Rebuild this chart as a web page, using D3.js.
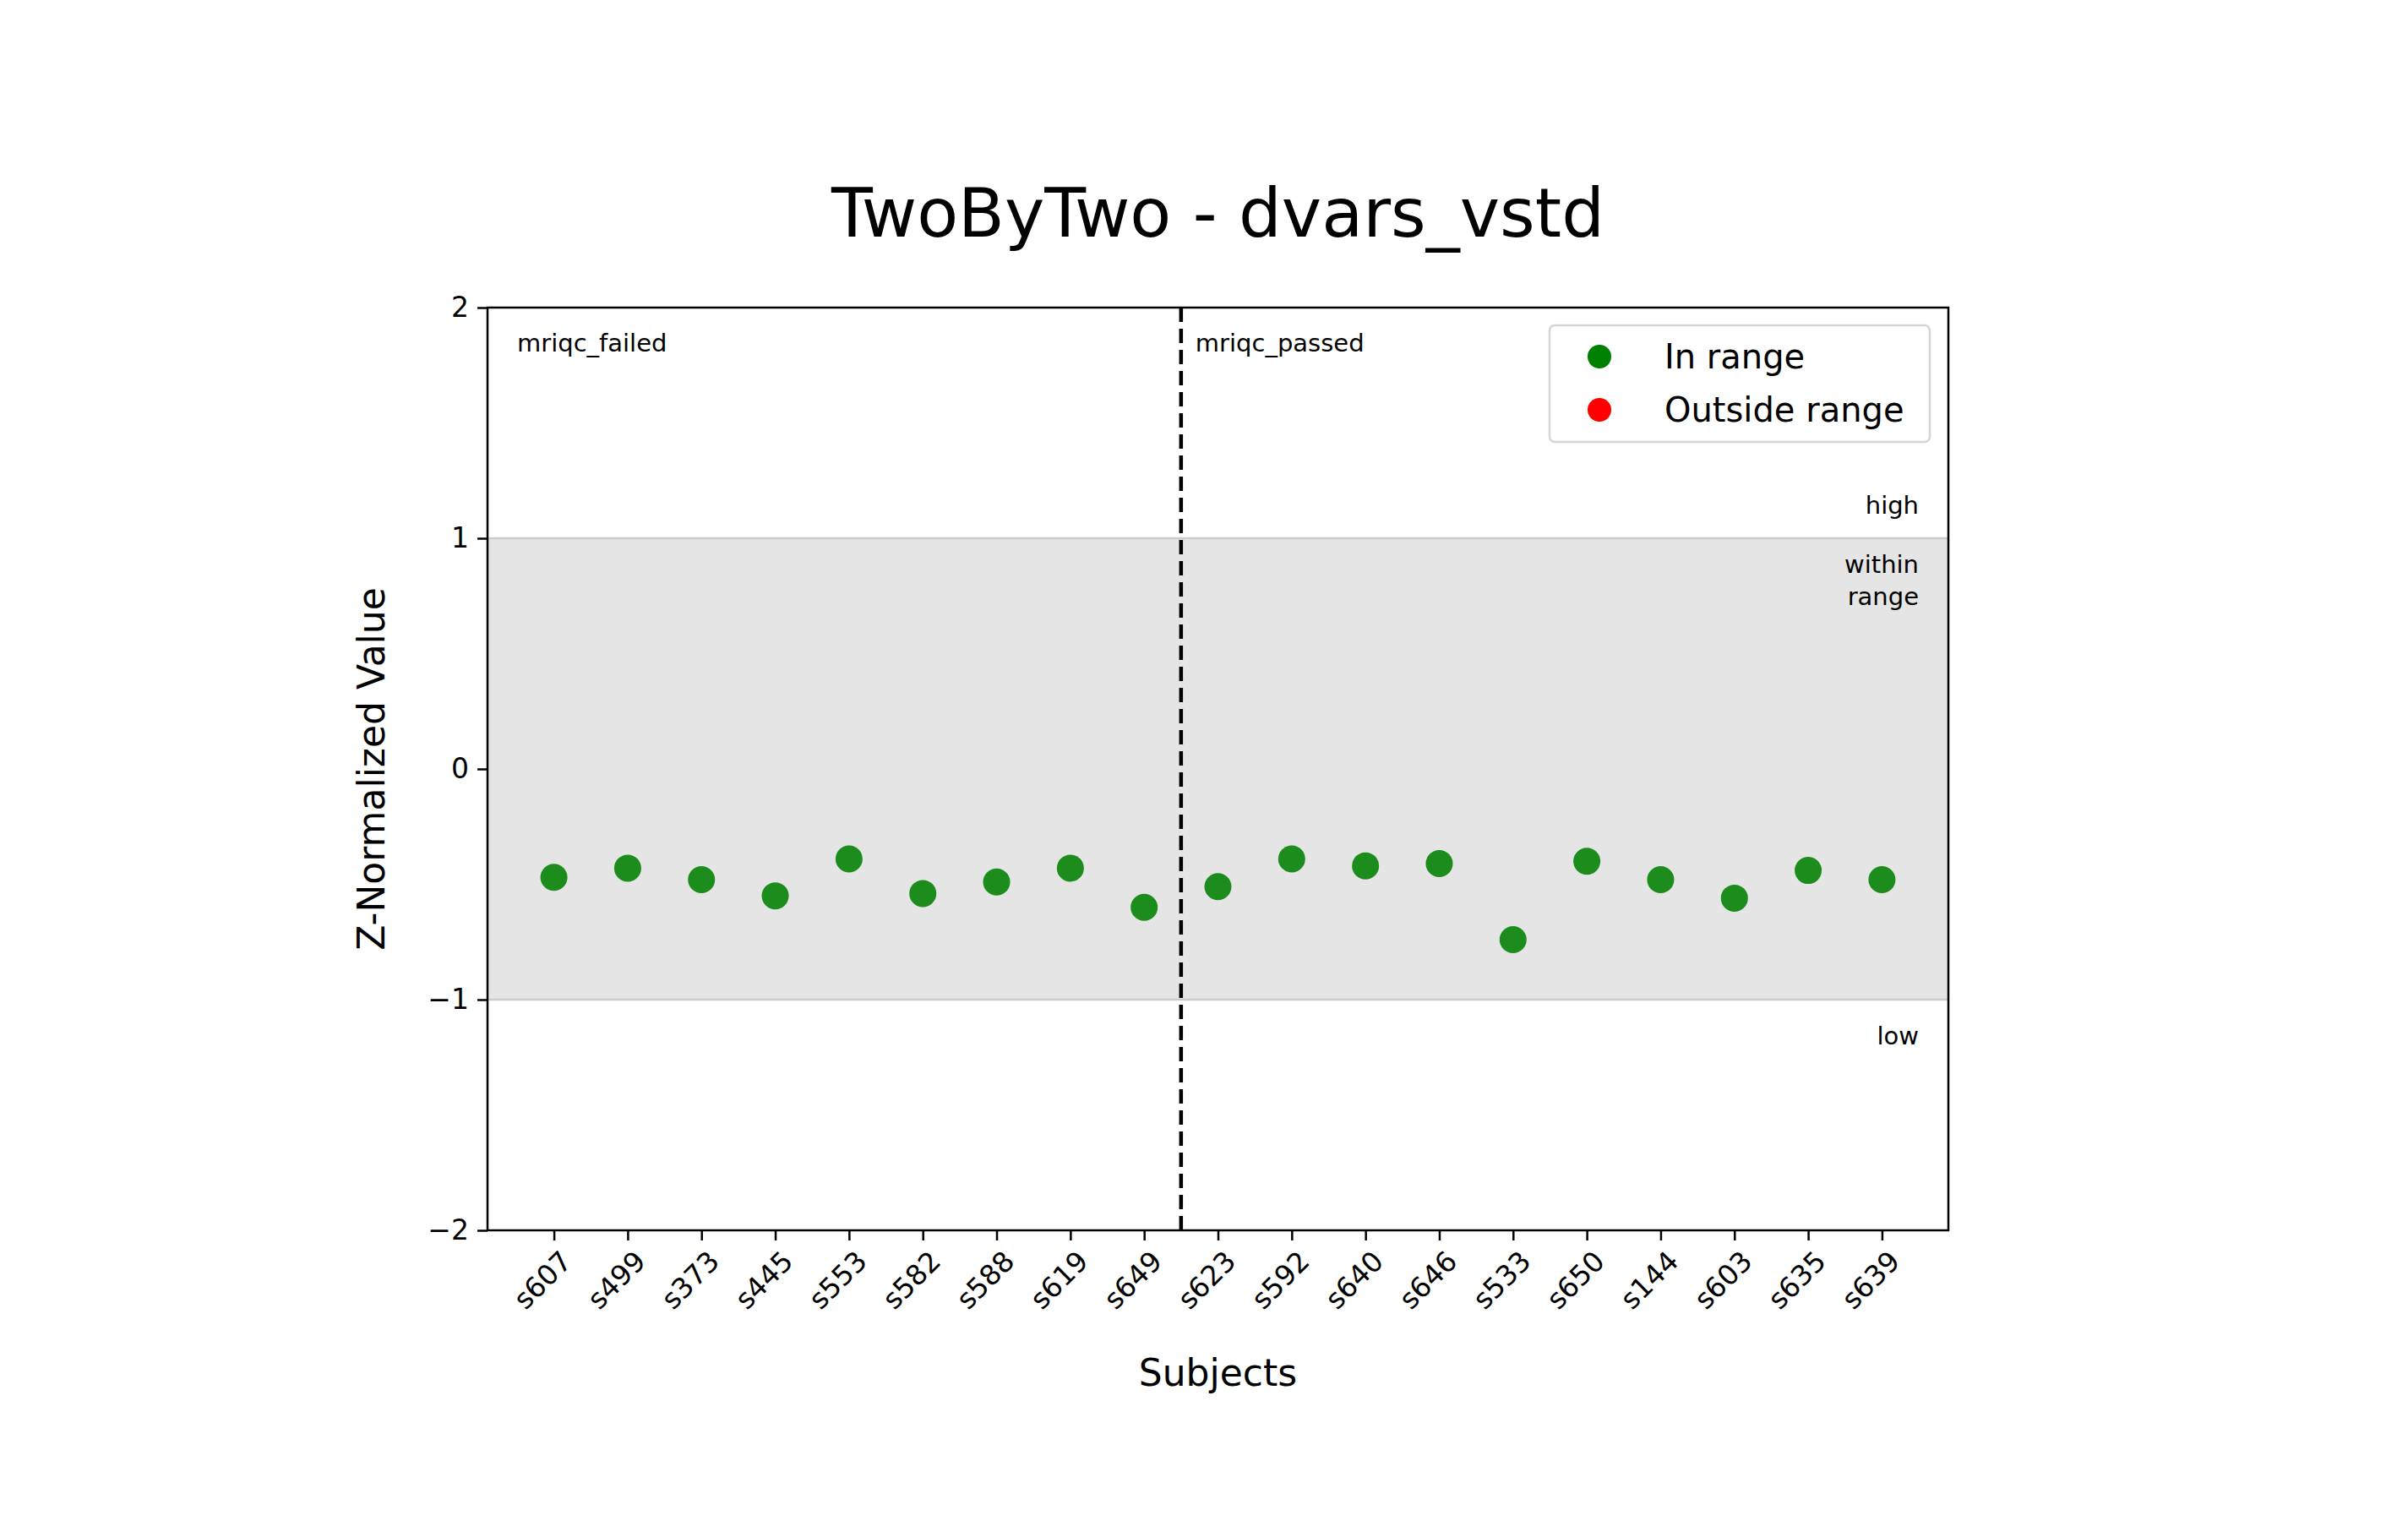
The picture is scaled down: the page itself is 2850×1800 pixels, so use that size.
<!DOCTYPE html>
<html><head><meta charset="utf-8">
<script src="https://cdn.jsdelivr.net/npm/d3@7"></script>
<style>body{margin:0;background:#fff}text{font-family:"DejaVu Sans",sans-serif}</style>
</head><body><div id="graph"></div>
<script>
// Subjects and their z-normalized values
const subjects = ['s607','s499','s373','s445','s553','s582','s588','s619','s649','s623','s592','s640','s646','s533','s650','s144','s603','s635','s639'];
const values = [-0.47,-0.43,-0.48,-0.55,-0.39,-0.54,-0.49,-0.43,-0.60,-0.51,-0.39,-0.42,-0.41,-0.74,-0.40,-0.48,-0.56,-0.44,-0.48];
const yTicks = [-2,-1,0,1,2];
const splitAt = 8.5; // between failed and passed groups

const width = 2850, height = 1800;
const m = {left: 577, right: 2306, top: 364, bottom: 1456};

const svg = d3.select('#graph').append('svg')
    .attr('width', width).attr('height', height);

const x = d3.scaleLinear().domain([-0.9, 18.9]).range([m.left, m.right]);
const y = d3.scaleLinear().domain([-2, 2]).range([m.bottom, m.top]);

// within-range band
svg.append('rect')
    .attr('x', m.left).attr('width', m.right - m.left)
    .attr('y', y(1)).attr('height', y(-1) - y(1))
    .attr('fill', '#e5e5e5');
[1, -1].forEach(v => svg.append('line')
    .attr('x1', m.left).attr('x2', m.right).attr('y1', y(v)).attr('y2', y(v))
    .attr('stroke', '#cccccc').attr('stroke-width', 2.5));

// divider
svg.append('line')
    .attr('x1', x(splitAt)).attr('x2', x(splitAt)).attr('y1', m.top).attr('y2', m.bottom)
    .attr('stroke', '#000').attr('stroke-width', 4.5).attr('stroke-dasharray', '17,8');

// points
svg.selectAll('circle.pt').data(values).enter().append('circle')
    .attr('class', 'pt')
    .attr('cx', (d, i) => x(i)).attr('cy', d => y(d)).attr('r', 16)
    .attr('fill', 'green').attr('fill-opacity', 0.88);

// frame
svg.append('rect').attr('x', m.left).attr('y', m.top)
    .attr('width', m.right - m.left).attr('height', m.bottom - m.top)
    .attr('fill', 'none').attr('stroke', '#000').attr('stroke-width', 2.5);

// axes
const yAxis = svg.append('g').attr('transform', `translate(${m.left},0)`)
    .call(d3.axisLeft(y).tickValues(yTicks).tickSize(12).tickPadding(10)
      .tickFormat(d => d < 0 ? '\u2212' + Math.abs(d) : d));
yAxis.select('.domain').remove();
yAxis.selectAll('line').attr('stroke-width', 2.5);
yAxis.selectAll('text').attr('font-size', 33).attr('font-family', 'DejaVu Sans');

const xAxis = svg.append('g').attr('transform', `translate(0,${m.bottom})`)
    .call(d3.axisBottom(x).tickValues(d3.range(subjects.length)).tickSize(12)
      .tickFormat(i => subjects[i]));
xAxis.select('.domain').remove();
xAxis.selectAll('line').attr('stroke-width', 2.5);
xAxis.selectAll('text').attr('font-size', 33).attr('font-family', 'DejaVu Sans')
    .attr('text-anchor', 'end').attr('dy', 0)
    .attr('transform', 'translate(12,28) rotate(-45)');

// titles
svg.append('text').attr('x', (m.left + m.right) / 2).attr('y', 280)
    .attr('text-anchor', 'middle').attr('font-size', 80).text('TwoByTwo - dvars_vstd');
svg.append('text').attr('x', (m.left + m.right) / 2).attr('y', 1640)
    .attr('text-anchor', 'middle').attr('font-size', 44).text('Subjects');
svg.append('text').attr('transform', `translate(455,${(m.top + m.bottom) / 2}) rotate(-90)`)
    .attr('text-anchor', 'middle').attr('font-size', 44).text('Z-Normalized Value');

// annotations
const ann = (tx, ty, t, anchor) => svg.append('text').attr('x', tx).attr('y', ty)
    .attr('font-size', 29).attr('text-anchor', anchor || 'start').text(t);
ann(612, 416, 'mriqc_failed');
ann(x(splitAt) + 17, 416, 'mriqc_passed');
ann(2271, 608, 'high', 'end');
ann(2271, 678, 'within', 'end');
ann(2271, 716, 'range', 'end');
ann(2271, 1236, 'low', 'end');

// legend
const lg = svg.append('g');
lg.append('rect').attr('x', 1834).attr('y', 385).attr('width', 450).attr('height', 138)
    .attr('rx', 6).attr('fill', '#fff').attr('fill-opacity', 0.8)
    .attr('stroke', '#d6d6d6').attr('stroke-width', 2.5);
[['In range', 'green', 422], ['Outside range', 'red', 485]].forEach(([t, c, ly]) => {
  lg.append('circle').attr('cx', 1893).attr('cy', ly).attr('r', 14).attr('fill', c);
  lg.append('text').attr('x', 1970).attr('y', ly + 14).attr('font-size', 40).text(t);
});
</script></body></html>
